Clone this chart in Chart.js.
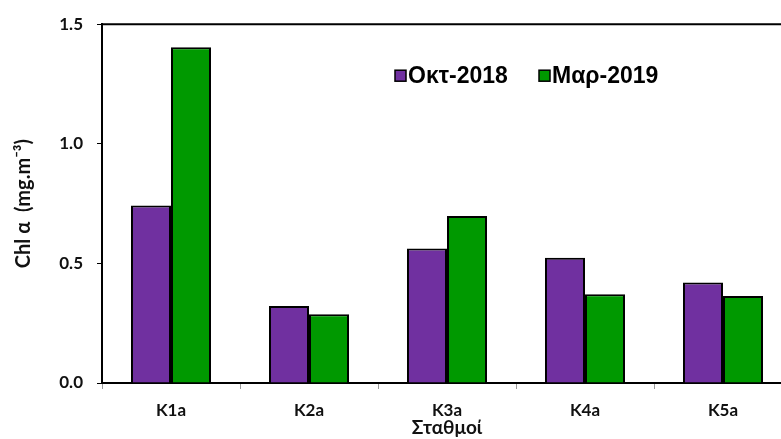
<!DOCTYPE html>
<html>
<head>
<meta charset="utf-8">
<script src="https://cdn.jsdelivr.net/npm/chart.js@4/dist/chart.umd.min.js"></script>
<style>
  html, body { margin: 0; padding: 0; background: #fff; overflow: hidden; }
  #wrap { width: 800px; height: 439px; }
</style>
</head>
<body>
<div id="wrap"><canvas id="chlChart" width="800" height="439"></canvas></div>
<script>
/* --- Data ---------------------------------------------------------------- */
const stations = ['K1a', 'K2a', 'K3a', 'K4a', 'K5a'];
const octValues = [0.742, 0.322, 0.562, 0.524, 0.420];
const marValues = [1.404, 0.287, 0.698, 0.371, 0.364];
const seriesNames = ['Οκτ-2018', 'Μαρ-2019'];
const yTicks = [0, 0.5, 1.0, 1.5];

const PURPLE = '#7030A0';
const GREEN  = '#009900';

/* --- Helpers ------------------------------------------------------------- */
// top frame line of the plot box
const frameTop = {
  id: 'frameTop',
  afterDraw(c) {
    const a = c.chartArea, g = c.ctx;
    g.save();
    g.strokeStyle = '#000'; g.lineWidth = 2;
    g.beginPath(); g.moveTo(a.left, a.top); g.lineTo(a.right, a.top); g.stroke();
    g.restore();
  }
};

// legend drawn inside the plot, built from the dataset labels/colours
const insideLegend = {
  id: 'insideLegend',
  afterDraw(c) {
    const a = c.chartArea, g = c.ctx;
    let x = a.left + 293;
    const y = a.top + 52;
    g.save();
    g.font = 'bold 23px "Liberation Sans", Arial, sans-serif';
    g.textBaseline = 'middle';
    c.data.datasets.forEach(ds => {
      g.fillStyle = ds.backgroundColor;
      g.fillRect(x, y - 6, 11, 11);
      g.strokeStyle = '#000'; g.lineWidth = 1.5;
      g.strokeRect(x, y - 6, 11, 11);
      g.fillStyle = '#000';
      g.fillText(ds.label, x + 13, y);
      x += 144;
    });
    g.restore();
  }
};

/* --- Chart --------------------------------------------------------------- */
const ctx = document.getElementById('chlChart').getContext('2d');
new Chart(ctx, {
  type: 'bar',
  data: {
    labels: stations,
    datasets: [
      { label: seriesNames[0], data: octValues, backgroundColor: PURPLE, borderColor: '#000', borderWidth: 2 },
      { label: seriesNames[1], data: marValues, backgroundColor: GREEN,  borderColor: '#000', borderWidth: 2 }
    ]
  },
  options: {
    responsive: false,
    animation: false,
    layout: { padding: { top: 24, right: 8, bottom: 0, left: 0 } },
    datasets: { bar: { categoryPercentage: 0.58, barPercentage: 1.0 } },
    plugins: { legend: { display: false }, tooltip: { enabled: false } },
    scales: {
      x: {
        grid: { display: true, drawOnChartArea: false, offset: true, tickLength: 6, color: '#999', lineWidth: 1 },
        border: { display: true, color: '#000', width: 2 },
        ticks: { color: '#111', padding: 11, font: { family: 'Lato', weight: 'bold', size: 17 } },
        title: {
          display: true, text: 'Σταθμοί', color: '#111',
          padding: { top: 0, bottom: 0 },
          font: { family: 'Lato', weight: 'bold', size: 19 }
        },
        afterFit(s) { s.height = 56; }
      },
      y: {
        min: 0, max: 1.5,
        afterBuildTicks(s) { s.ticks = yTicks.map(v => ({ value: v })); },
        grid: { display: true, drawOnChartArea: false, tickLength: 5, color: '#000', lineWidth: 1 },
        border: { display: true, color: '#000', width: 2 },
        ticks: {
          color: '#111', padding: 14,
          font: { family: 'Lato', weight: 'bold', size: 17 },
          callback: v => Number(v).toFixed(1)
        },
        title: {
          display: true, text: 'Chl α  (mg.m⁻³)', color: '#111',
          padding: { top: 12, bottom: 0 },
          font: { family: 'Lato', weight: 'bold', size: 20 }
        },
        afterFit(s) { s.width = 102; }
      }
    }
  },
  plugins: [frameTop, insideLegend]
});
</script>
</body>
</html>
